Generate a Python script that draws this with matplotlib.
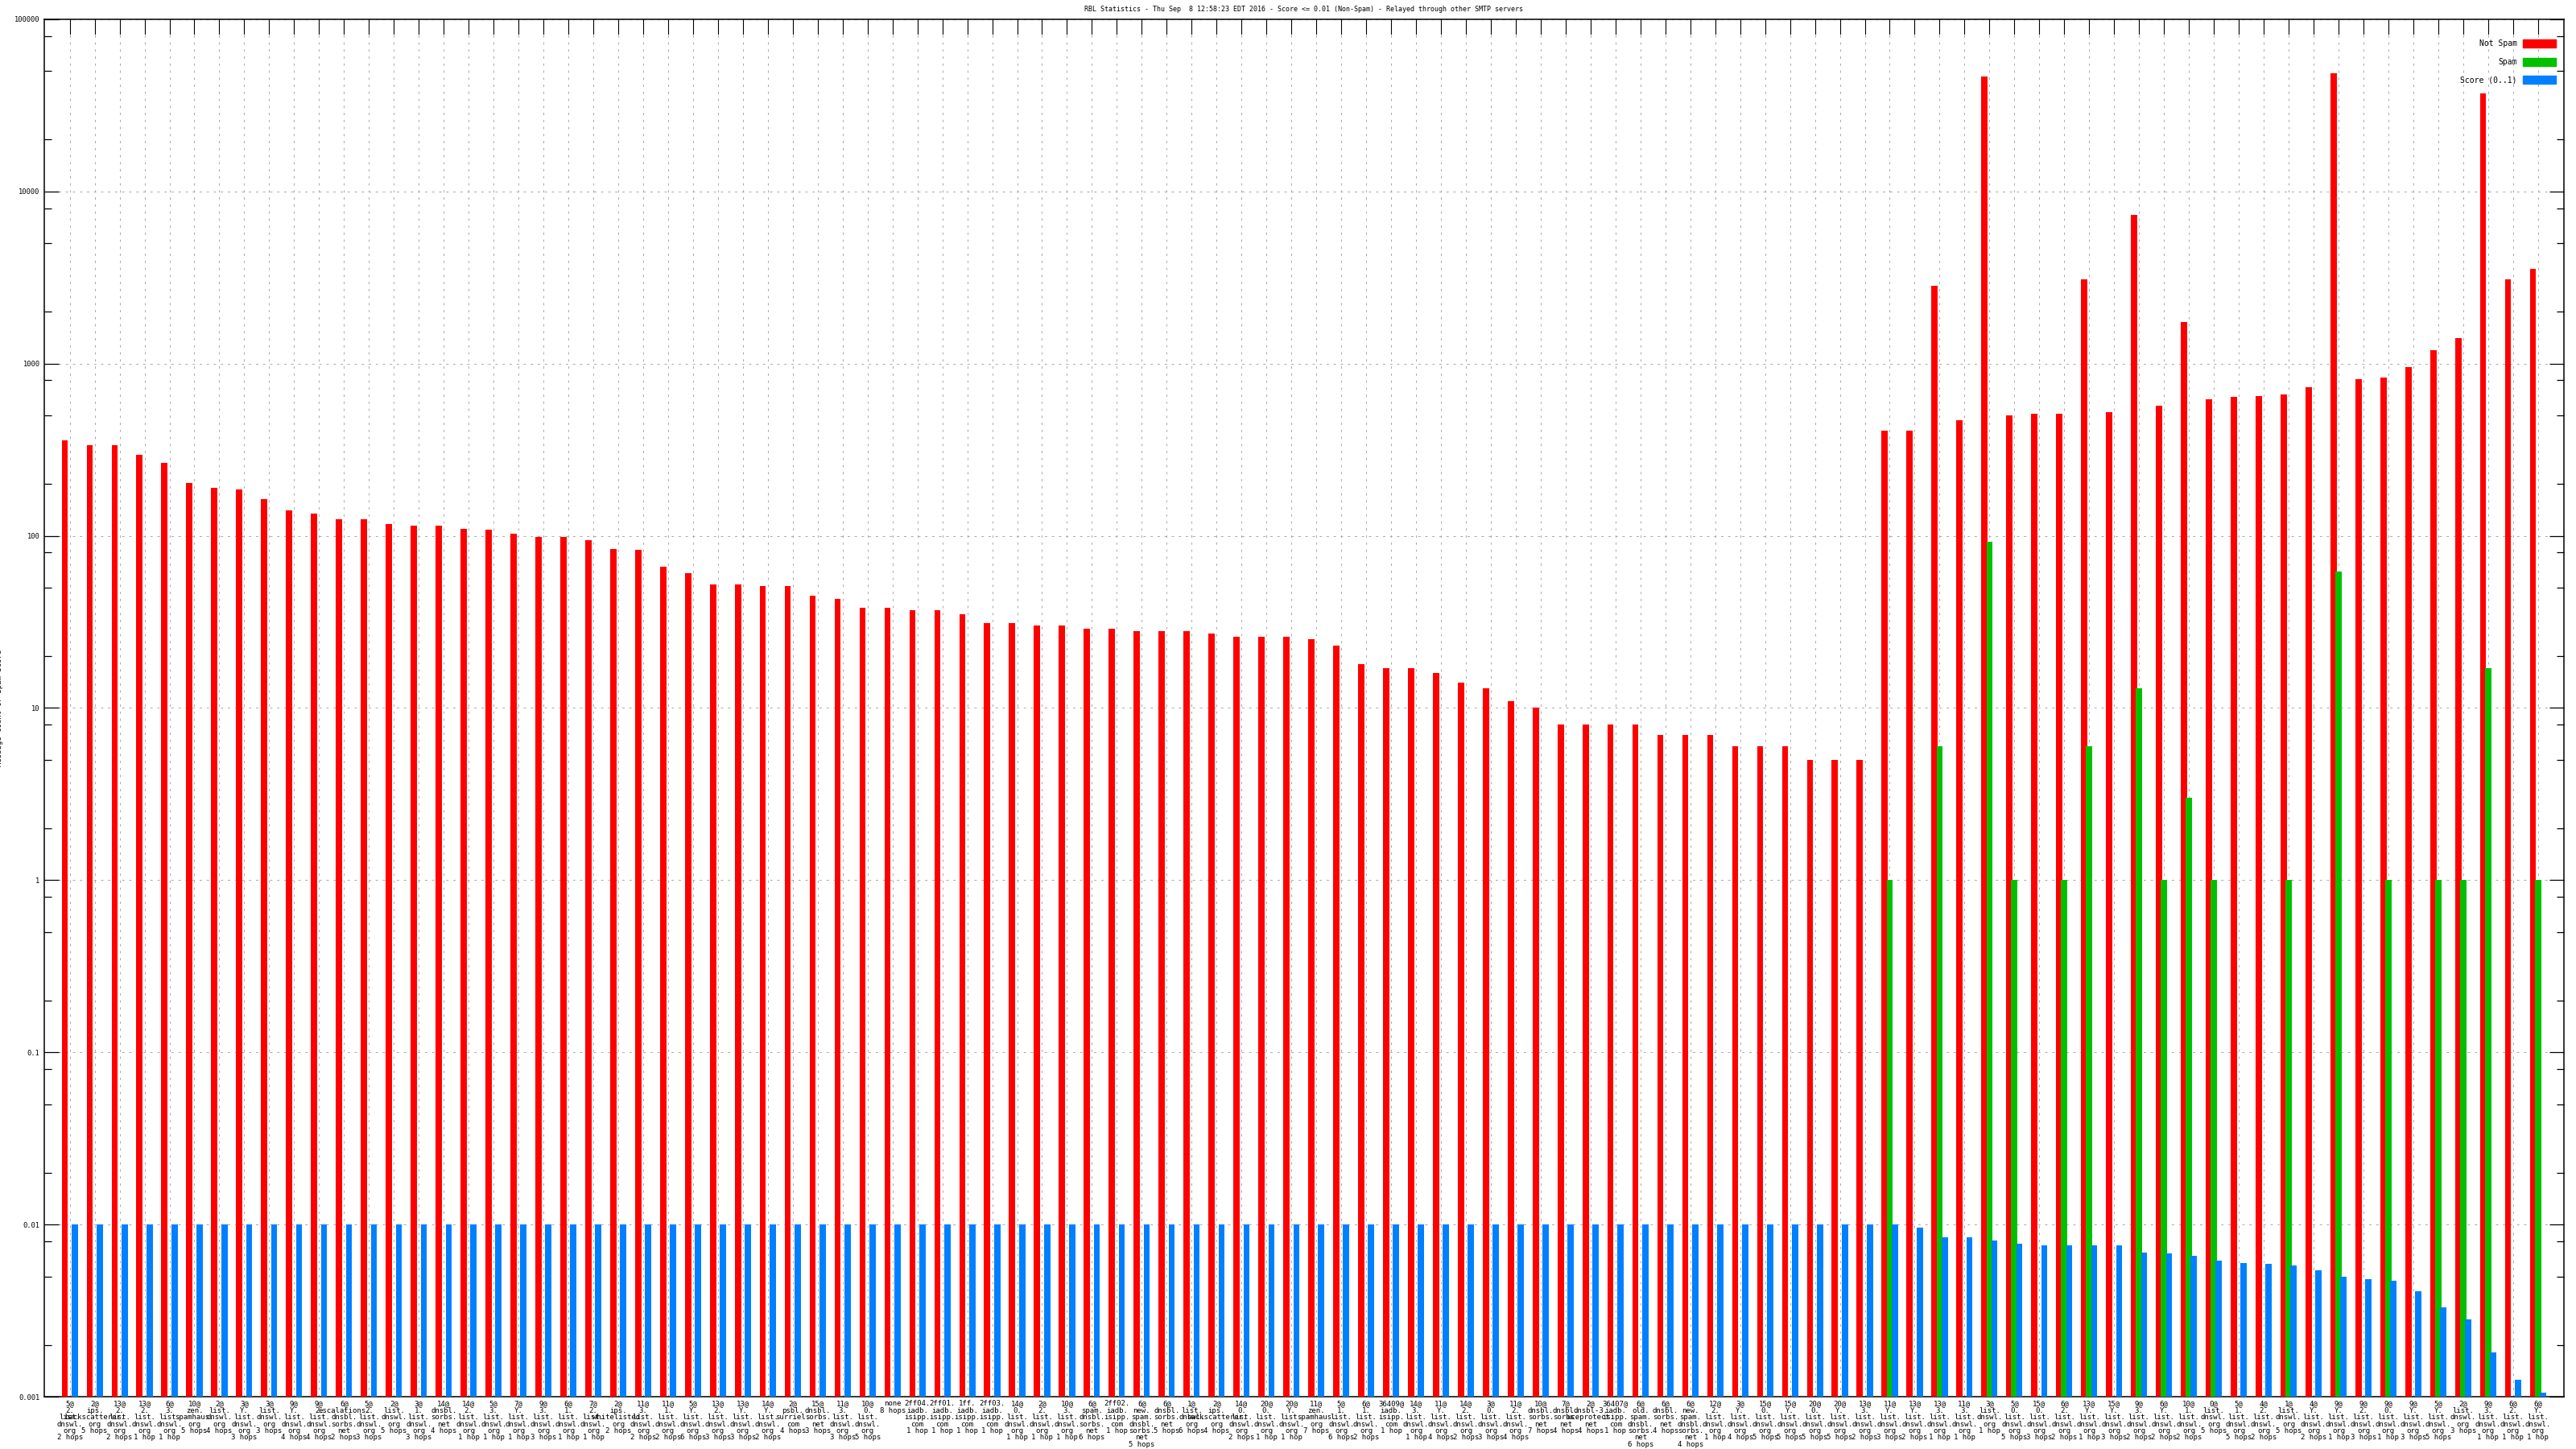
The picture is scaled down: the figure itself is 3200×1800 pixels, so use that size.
import numpy as np
import matplotlib
matplotlib.use("Agg")
import matplotlib.pyplot as plt
from matplotlib.patches import Patch
from matplotlib.ticker import FixedLocator, NullFormatter

title = "RBL Statistics - Thu Sep  8 12:58:23 EDT 2016 - Score <= 0.01 (Non-Spam) - Relayed through other SMTP servers"

# one entry per RBL answer, lines separated by "|"
labels = [
    "5@|2.|list.|dnswl.|org|2 hops", "2@|ips.|backscatterer.|org|5 hops", "13@|2.|list.|dnswl.|org|2 hops",
    "13@|2.|list.|dnswl.|org|1 hop", "6@|3.|list.|dnswl.|org|1 hop", "10@|zen.|spamhaus.|org|5 hops",
    "2@|list.|dnswl.|org|4 hops", "3@|Y.|list.|dnswl.|org|3 hops", "3@|list.|dnswl.|org|3 hops",
    "9@|Y.|list.|dnswl.|org|4 hops", "9@|2.|list.|dnswl.|org|4 hops", "6@|escalations.|dnsbl.|sorbs.|net|2 hops",
    "5@|2.|list.|dnswl.|org|3 hops", "2@|list.|dnswl.|org|5 hops", "3@|1.|list.|dnswl.|org|3 hops",
    "14@|dnsbl.|sorbs.|net|4 hops", "14@|2.|list.|dnswl.|org|1 hop", "5@|3.|list.|dnswl.|org|1 hop",
    "7@|Y.|list.|dnswl.|org|1 hop", "9@|3.|list.|dnswl.|org|3 hops", "6@|1.|list.|dnswl.|org|1 hop",
    "7@|2.|list.|dnswl.|org|1 hop", "2@|ips.|whitelisted.|org|2 hops", "11@|3.|list.|dnswl.|org|2 hops",
    "11@|1.|list.|dnswl.|org|2 hops", "5@|Y.|list.|dnswl.|org|6 hops", "13@|2.|list.|dnswl.|org|3 hops",
    "13@|Y.|list.|dnswl.|org|3 hops", "14@|Y.|list.|dnswl.|org|2 hops", "2@|psbl.|surriel.|com|4 hops",
    "15@|dnsbl.|sorbs.|net|3 hops", "11@|3.|list.|dnswl.|org|3 hops", "10@|0.|list.|dnswl.|org|5 hops",
    "none|8 hops", "2ff04.|iadb.|isipp.|com|1 hop", "2ff01.|iadb.|isipp.|com|1 hop",
    "1ff.|iadb.|isipp.|com|1 hop", "2ff03.|iadb.|isipp.|com|1 hop", "14@|0.|list.|dnswl.|org|1 hop",
    "2@|2.|list.|dnswl.|org|1 hop", "10@|3.|list.|dnswl.|org|1 hop", "6@|spam.|dnsbl.|sorbs.|net|6 hops",
    "2ff02.|iadb.|isipp.|com|1 hop", "6@|new.|spam.|dnsbl.|sorbs.|net|5 hops", "6@|dnsbl.|sorbs.|net|5 hops",
    "1@|list.|dnswl.|org|6 hops", "2@|ips.|backscatterer.|org|4 hops", "14@|0.|list.|dnswl.|org|2 hops",
    "20@|0.|list.|dnswl.|org|1 hop", "20@|Y.|list.|dnswl.|org|1 hop", "11@|zen.|spamhaus.|org|7 hops",
    "5@|1.|list.|dnswl.|org|6 hops", "6@|1.|list.|dnswl.|org|2 hops", "36409@|iadb.|isipp.|com|1 hop",
    "14@|3.|list.|dnswl.|org|1 hop", "11@|Y.|list.|dnswl.|org|4 hops", "14@|2.|list.|dnswl.|org|2 hops",
    "3@|0.|list.|dnswl.|org|3 hops", "11@|2.|list.|dnswl.|org|4 hops", "10@|dnsbl.|sorbs.|net|7 hops",
    "7@|dnsbl.|sorbs.|net|4 hops", "2@|dnsbl-3.|uceprotect.|net|4 hops", "36407@|iadb.|isipp.|com|1 hop",
    "6@|old.|spam.|dnsbl.|sorbs.|net|6 hops", "6@|dnsbl.|sorbs.|net|4 hops", "6@|new.|spam.|dnsbl.|sorbs.|net|4 hops",
    "12@|2.|list.|dnswl.|org|1 hop", "3@|Y.|list.|dnswl.|org|4 hops", "15@|0.|list.|dnswl.|org|5 hops",
    "15@|Y.|list.|dnswl.|org|5 hops", "20@|0.|list.|dnswl.|org|5 hops", "20@|Y.|list.|dnswl.|org|5 hops",
    "13@|3.|list.|dnswl.|org|2 hops", "11@|Y.|list.|dnswl.|org|3 hops", "13@|Y.|list.|dnswl.|org|2 hops",
    "13@|3.|list.|dnswl.|org|1 hop", "11@|3.|list.|dnswl.|org|1 hop", "3@|list.|dnswl.|org|1 hop",
    "5@|0.|list.|dnswl.|org|5 hops", "15@|0.|list.|dnswl.|org|3 hops", "6@|2.|list.|dnswl.|org|2 hops",
    "13@|Y.|list.|dnswl.|org|1 hop", "15@|Y.|list.|dnswl.|org|3 hops", "9@|3.|list.|dnswl.|org|2 hops",
    "6@|Y.|list.|dnswl.|org|2 hops", "10@|1.|list.|dnswl.|org|2 hops", "0@|list.|dnswl.|org|5 hops",
    "5@|1.|list.|dnswl.|org|5 hops", "4@|2.|list.|dnswl.|org|2 hops", "1@|list.|dnswl.|org|5 hops",
    "4@|Y.|list.|dnswl.|org|2 hops", "9@|Y.|list.|dnswl.|org|1 hop", "9@|2.|list.|dnswl.|org|3 hops",
    "9@|0.|list.|dnswl.|org|1 hop", "9@|Y.|list.|dnswl.|org|3 hops", "5@|Y.|list.|dnswl.|org|5 hops",
    "2@|list.|dnswl.|org|3 hops", "9@|3.|list.|dnswl.|org|1 hop", "6@|2.|list.|dnswl.|org|1 hop",
    "6@|Y.|list.|dnswl.|org|1 hop",
]

not_spam = [
    360, 336, 335, 295, 264, 203, 190, 186, 163, 140,
    134, 125, 125, 117, 115, 115, 110, 108, 103, 98,
    98, 94, 84, 83, 66, 61, 52, 52, 51, 51,
    45, 43, 38, 38, 37, 37, 35, 31, 31, 30,
    30, 29, 29, 28, 28, 28, 27, 26, 26, 26,
    25, 23, 18, 17, 17, 16, 14, 13, 11, 10,
    8, 8, 8, 8, 7, 7, 7, 6, 6, 6,
    5, 5, 5, 410, 410, 2840, 470, 46300, 500, 510,
    510, 3100, 520, 7300, 570, 1750, 620, 640, 650, 665,
    730, 48400, 810, 830, 950, 1200, 1400, 37000, 3100, 3540,
]

spam = [0] * 73 + [
    1, 0, 6, 0, 92, 1, 0, 1, 6, 0,
    13, 1, 3, 1, 0, 0, 1, 0, 62, 0,
    1, 0, 1, 1, 17, 0, 1,
]

score = [0.01] * 73 + [
    0.0100, 0.0096, 0.0084, 0.0084, 0.0081, 0.0077, 0.0076, 0.0076, 0.0076, 0.0076,
    0.0069, 0.0068, 0.0066, 0.0062, 0.0060, 0.0059, 0.0058, 0.0054, 0.0050, 0.0048,
    0.0047, 0.0041, 0.0033, 0.0028, 0.0018, 0.00125, 0.00105,
]

red = "#ff0000"
green = "#00c000"
blue = "#0080ff"
font = "DejaVu Sans Mono"

fig = plt.figure(figsize=(32, 18), dpi=100)
ax = fig.add_axes([0.0172, 0.0361, 0.978, 0.9506])

x = np.arange(len(labels))
w = 0.25
off = 0.2
ns = np.array(not_spam, dtype=float)
sp = np.array(spam, dtype=float)
sp[sp <= 0] = np.nan
sc = np.array(score, dtype=float)

ax.bar(x - off, ns, width=w, color=red, bottom=0.001, zorder=3)
ax.bar(x, sp - 0.001, width=w, color=green, bottom=0.001, zorder=3)
ax.bar(x + off, sc - 0.001, width=w, color=blue, bottom=0.001, zorder=3)

ax.set_yscale("log")
ax.set_ylim(0.001, 100000)
ax.set_xlim(-1.02, 100.03)

# y ticks
majors = [0.001, 0.01, 0.1, 1, 10, 100, 1000, 10000, 100000]
ax.yaxis.set_major_locator(FixedLocator(majors))
ax.set_yticklabels(["0.001", "0.01", "0.1", "1", "10", "100", "1000", "10000", "100000"],
                   fontsize=6.3, family=font)
minors = [m * d for d in majors[:-1] for m in (2, 5, 8)]
ax.yaxis.set_minor_locator(FixedLocator(minors))
ax.yaxis.set_minor_formatter(NullFormatter())
ax.tick_params(axis="y", which="major", direction="in", length=13, width=0.9, right=True, pad=4)
ax.tick_params(axis="y", which="minor", direction="in", length=6.5, width=0.9, right=True)

# x ticks: labels below, short marks only along the top edge
ax.set_xticks(x)
ax.set_xticklabels([s.replace("|", "\n") for s in labels], fontsize=6.5, family=font,
                   linespacing=0.92, va="top")
ax.tick_params(axis="x", which="major", direction="in", length=0, top=True, pad=3)
for xi in x:
    ax.plot([xi, xi], [100000 / 10 ** 0.085, 100000], color="black", lw=0.8, zorder=4, clip_on=False)

ax.grid(True, which="major", axis="both", color="#a8a8a8", linestyle=(0, (3, 6)), linewidth=0.7, zorder=0)

for s in ax.spines.values():
    s.set_linewidth(1.1)

ax.set_title(title, fontsize=6.0, family=font, pad=7)
ax.set_ylabel("Message Count or Spam Score", fontsize=6.5, family=font, labelpad=10)

handles = [Patch(color=red, label="Not Spam"), Patch(color=green, label="Spam"),
           Patch(color=blue, label="Score (0..1)")]
ax.legend(handles=handles, loc="upper right", bbox_to_anchor=(1.0051, 1.0), frameon=False,
          markerfirst=False, prop={"family": font, "size": 7}, handlelength=4.2, handleheight=1.2,
          labelspacing=1.25, borderaxespad=2.2, handletextpad=0.8)

fig.savefig("out.png", dpi=100)
